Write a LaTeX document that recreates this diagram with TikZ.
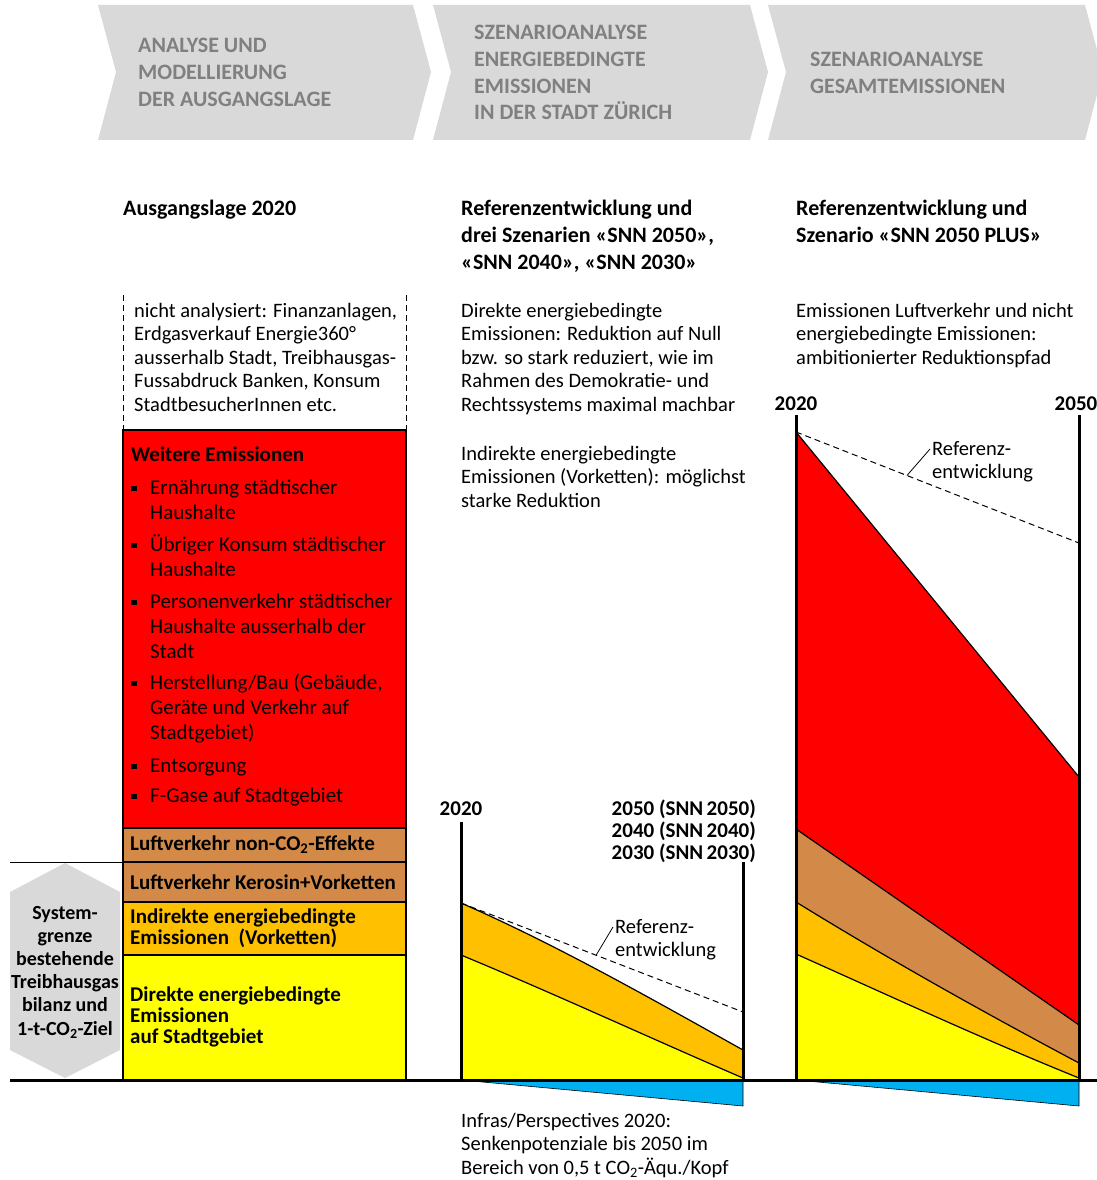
\documentclass[tikz,border=0pt]{standalone}
\usepackage{fontspec}
\setmainfont{Carlito}
\usetikzlibrary{positioning,calc}
\definecolor{chevgray}{HTML}{D9D9D9}
\definecolor{chevtext}{HTML}{808080}
\definecolor{emred}{HTML}{FF0000}
\definecolor{embrown}{HTML}{D38947}
\definecolor{emorange}{HTML}{FFC000}
\definecolor{emyellow}{HTML}{FFFF00}
\definecolor{sinkblue}{HTML}{00B0F0}
\newcommand{\sqb}{\makebox[19pt][l]{\rule[3.5pt]{5.5pt}{5.5pt}}}
\newcommand{\ind}{\hspace*{19pt}}

\begin{document}
\begin{tikzpicture}[x=1pt,y=-1pt,
    txt/.style={inner sep=0pt,anchor=north west,align=left,font=\fontsize{20.5}{23.4}\selectfont},
    hdr/.style={inner sep=0pt,anchor=north west,align=left,font=\fontsize{22}{27}\selectfont\bfseries},
    chev/.style={inner sep=0pt,anchor=north west,align=left,text=chevtext,font=\fontsize{22}{26.7}\selectfont\bfseries},
    lbl/.style={inner sep=0pt,anchor=west,align=left,font=\fontsize{21}{21}\selectfont\bfseries},
    yr/.style={inner sep=0pt,font=\fontsize{21}{22}\selectfont\bfseries},
    layer/.style={draw=black,line width=1.2pt},
    bound/.style={line width=1.2pt},
    axis/.style={line width=3pt},
    refline/.style={dash pattern=on 6pt off 4pt,line width=1pt}]

    \useasboundingbox (0,0) rectangle (1097,1180);

    % process chevrons
    \foreach \xl/\xr in {98/413,433/750,768/1085}{
        \fill[chevgray] (\xl,5) -- (\xr,5) -- ({\xr+18},72) -- (\xr,140)
            -- (\xl,140) -- ({\xl+18},72) -- cycle;
    }
    \node[chev] (c1) at (138,38) {ANALYSE UND\\MODELLIERUNG\\DER AUSGANGSLAGE};
    \node[chev] (c2) at (474,25) {SZENARIOANALYSE\\ENERGIEBEDINGTE\\EMISSIONEN\\IN DER STADT ZÜRICH};
    \node[chev] (c3) at (810,52) {SZENARIOANALYSE\\GESAMTEMISSIONEN};

    % headers
    \node[hdr] (h1) at (123,200) {Ausgangslage 2020};
    \node[hdr] (h2) at (461,200) {Referenzentwicklung und\\drei Szenarien «SNN 2050»,\\«SNN 2040», «SNN 2030»};
    \node[hdr] (h3) at (796,200) {Referenzentwicklung und\\Szenario «SNN 2050 PLUS»};

    % Ausgangslage column
    \draw[refline] (123,295) -- (123,430);
    \draw[refline] (406,295) -- (406,430);
    \node[txt] (nicht) at (134,303) {nicht analysiert: Finanzanlagen,\\Erdgasverkauf Energie360°\\ausserhalb Stadt, Treibhausgas-\\Fussabdruck Banken, Konsum\\StadtbesucherInnen etc.};

    \draw[layer,fill=emred] (123,430) rectangle (406,828);
    \draw[layer,fill=embrown] (123,828) rectangle (406,862);
    \draw[layer,fill=embrown] (123,862) rectangle (406,902);
    \draw[layer,fill=emorange] (123,902) rectangle (406,955);
    \draw[layer,fill=emyellow] (123,955) rectangle (406,1080);

    \node[txt,font=\fontsize{21}{25}\selectfont] (weitere) at (131,447) {\textbf{Weitere Emissionen}\\[8pt]
        \sqb Ernährung städtischer\\ \ind Haushalte\\[7pt]
        \sqb Übriger Konsum städtischer\\ \ind Haushalte\\[7pt]
        \sqb Personenverkehr städtischer\\ \ind Haushalte ausserhalb der\\ \ind Stadt\\[6pt]
        \sqb Herstellung/Bau (Gebäude,\\ \ind Geräte und Verkehr auf\\ \ind Stadtgebiet)\\[8pt]
        \sqb Entsorgung\\[5pt]
        \sqb F-Gase auf Stadtgebiet};
    \node[lbl] (nonco) at (130,845) {Luftverkehr non-CO\textsubscript{2}-Effekte};
    \node[lbl] (kero) at (130,882) {Luftverkehr Kerosin+Vorketten};
    \node[lbl] (indir) at (130,928) {Indirekte energiebedingte\\Emissionen\ \ (Vorketten)};
    \node[lbl] (direkt) at (130,1017) {Direkte energiebedingte\\Emissionen\\auf Stadtgebiet};

    % Systemgrenze
    \fill[chevgray] (65,863) -- (120,892) -- (120,1050) -- (65,1078) -- (10,1050) -- (10,892) -- cycle;
    \draw[line width=1pt] (10,862) -- (123,862);
    \node[inner sep=0pt,align=center,font=\fontsize{20}{23.2}\selectfont\bfseries] (grenze) at (65,972)
        {System-\\grenze\\bestehende\\Treibhausgas\\bilanz und\\1-t-CO\textsubscript{2}-Ziel};

    % middle chart
    \node[txt] (mtxt1) at (461,303) {Direkte energiebedingte\\Emissionen: Reduktion auf Null\\bzw. so stark reduziert, wie im\\Rahmen des Demokratie- und\\Rechtssystems maximal machbar};
    \node[txt] (mtxt2) at (461,446) {Indirekte energiebedingte\\Emissionen (Vorketten): möglichst\\starke Reduktion};

    \fill[emorange] (461,903) .. controls (555,944) and (650,998) .. (743,1050) -- (743,1078)
        .. controls (650,1038) and (555,994) .. (461,955) -- cycle;
    \fill[emyellow] (461,955) .. controls (555,994) and (650,1038) .. (743,1078) -- (743,1080) -- (461,1080) -- cycle;
    \draw[bound] (461,903) .. controls (555,944) and (650,998) .. (743,1050);
    \draw[bound] (461,955) .. controls (555,994) and (650,1038) .. (743,1078);
    \draw[fill=sinkblue,line width=0.6pt] (461,1080) -- (743,1080) -- (743,1106) -- cycle;

    \coordinate (mref0) at (461,903);
    \coordinate (mref1) at (743,1012);
    \draw[refline] (mref0) -- (mref1);
    \coordinate (mpin) at ($(mref0)!0.479!(mref1)$);
    \node[txt,font=\fontsize{20.5}{23}\selectfont] (mlab) at (615,919) {Referenz-\\entwicklung};
    \draw[line width=0.8pt] (mpin) -- ([xshift=-2pt,yshift=-8pt]mlab.north west);

    \node[yr] (m2020) at (461,809) {2020};
    \node[yr,anchor=east,align=right] (mend) at (756,831) {2050 (SNN\,2050)\\2040 (SNN\,2040)\\2030 (SNN\,2030)};
    \draw[axis] (461,822) -- (461,1080);
    \draw[axis] (743,862) -- (743,1080);

    \node[txt] (senke) at (461,1113) {Infras/Perspectives 2020:\\Senkenpotenziale bis 2050 im\\Bereich von 0,5 t CO\textsubscript{2}-Äqu./Kopf};

    % right chart
    \node[txt] (rtxt) at (796,303) {Emissionen Luftverkehr und nicht\\energiebedingte Emissionen:\\ambitionierter Reduktionspfad};

    \fill[emred] (796,432) -- (1079,777) -- (1079,1025) -- (796,829) -- cycle;
    \fill[embrown] (796,829) -- (1079,1025) -- (1079,1063) .. controls (985,1013) and (890,960) .. (796,902) -- cycle;
    \fill[emorange] (796,902) .. controls (890,960) and (985,1013) .. (1079,1063) -- (1079,1078)
        .. controls (985,1040) and (890,996) .. (796,954) -- cycle;
    \fill[emyellow] (796,954) .. controls (890,996) and (985,1040) .. (1079,1078) -- (1079,1080) -- (796,1080) -- cycle;
    \draw[bound] (796,432) -- (1079,777);
    \draw[bound] (796,829) -- (1079,1025);
    \draw[bound] (796,902) .. controls (890,960) and (985,1013) .. (1079,1063);
    \draw[bound] (796,954) .. controls (890,996) and (985,1040) .. (1079,1078);
    \draw[fill=sinkblue,line width=0.6pt] (796,1080) -- (1079,1080) -- (1079,1106) -- cycle;

    \coordinate (rref0) at (796,432);
    \coordinate (rref1) at (1079,543);
    \draw[refline] (rref0) -- (rref1);
    \coordinate (rpin) at ($(rref0)!0.392!(rref1)$);
    \node[txt,font=\fontsize{20.5}{23}\selectfont] (rlab) at (932,441) {Referenz-\\entwicklung};
    \draw[line width=0.8pt] (rpin) -- ([xshift=-2pt,yshift=-8pt]rlab.north west);

    \node[yr] (r2020) at (796,404) {2020};
    \node[yr] (r2050) at (1076,404) {2050};
    \draw[axis] (796,415) -- (796,1080);
    \draw[axis] (1079,415) -- (1079,1080);

    % baseline
    \draw[axis] (10,1080) -- (1097,1080);
\end{tikzpicture}
\end{document}
